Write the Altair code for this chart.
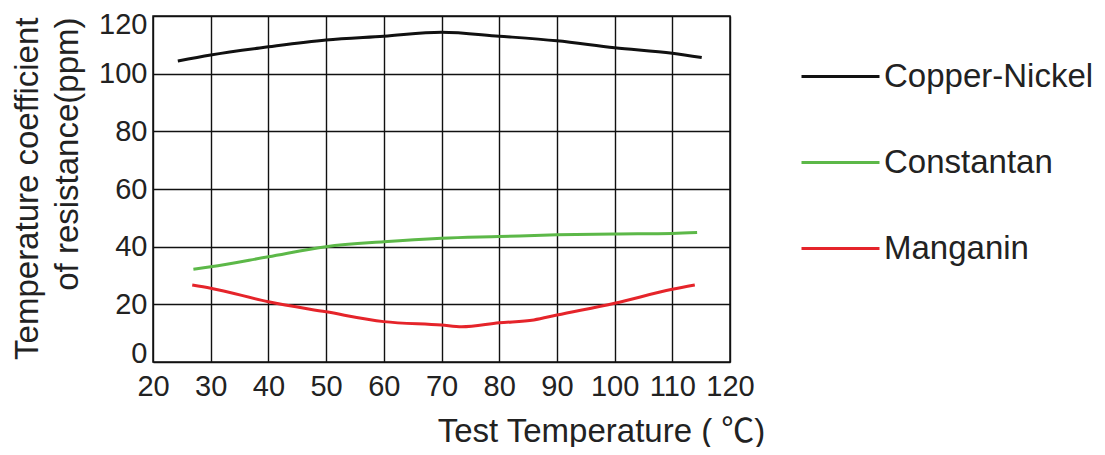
import altair as alt
import pandas as pd

# Copper-Nickel
cn_t = [24.3, 30, 40, 50, 60, 70, 80, 90, 100, 110, 115.1]
cn_v = [104.4, 106.5, 109.3, 111.7, 113.0, 114.4, 113.0, 111.4, 109.0, 107.1, 105.6]
# Constantan
co_t = [27.0, 30, 40, 50, 60, 70, 80, 90, 100, 110, 114.3]
co_v = [32.2, 33.0, 36.5, 40.0, 41.7, 42.9, 43.5, 44.1, 44.4, 44.6, 44.9]
# Manganin
mn_t = [26.8, 30, 40, 50, 60, 70, 73.5, 80, 86, 90, 100, 110, 113.9]
mn_v = [26.7, 25.6, 20.9, 17.4, 14.0, 12.8, 12.2, 13.6, 14.6, 16.3, 20.4, 25.2, 26.7]

series = ["Copper-Nickel", "Constantan", "Manganin"]
colors = ["#111111", "#5cb848", "#e5242a"]
x_ticks = list(range(20, 121, 10))
y_ticks = list(range(0, 121, 20))

rows = []
for name, ts, vs in zip(series, [cn_t, co_t, mn_t], [cn_v, co_v, mn_v]):
    for t, v in zip(ts, vs):
        rows.append({"series": name, "temp": t, "tcr": v})
df = pd.DataFrame(rows)

FONT = "Liberation Sans, Arial, Noto Sans CJK SC, sans-serif"
TXT = "#222222"

chart = alt.Chart(df).mark_line(strokeWidth=3, interpolate="monotone").encode(
    x=alt.X("temp:Q",
            scale=alt.Scale(domain=[20, 120], nice=False, zero=False),
            axis=alt.Axis(values=x_ticks, title="Test Temperature ( ℃)", grid=True,
                          ticks=False, domain=False, labelFlush=False,
                          labelFontSize=29, labelPadding=10, labelColor=TXT, labelFont=FONT,
                          titleFontSize=33, titleFont=FONT, titleColor=TXT,
                          titleFontWeight="normal", titleX=448, titleY=79,
                          titleBaseline="alphabetic", titleAlign="center",
                          gridColor="#111111", gridWidth=1.4, gridOpacity=1)),
    y=alt.Y("tcr:Q",
            scale=alt.Scale(domain=[0, 120], nice=False),
            axis=alt.Axis(values=y_ticks,
                          title=["Temperature coefficient", "of resistance(ppm)"],
                          grid=True, ticks=False, domain=False, labelFlush=True,
                          labelFlushOffset=6,
                          labelFontSize=29, labelPadding=6, labelColor=TXT, labelFont=FONT,
                          titleFontSize=33, titleFont=FONT, titleColor=TXT,
                          titleFontWeight="normal", titleAngle=270, titleAlign="right",
                          titleBaseline="top", titleX=-142, titleY=1, titleLineHeight=40,
                          gridColor="#111111", gridWidth=1.4, gridOpacity=1)),
    color=alt.Color("series:N",
                    scale=alt.Scale(domain=series, range=colors),
                    legend=alt.Legend(orient="none", legendX=647, legendY=20, title=None,
                                      symbolType="stroke", symbolSize=6084,
                                      symbolStrokeWidth=3, labelFontSize=33,
                                      labelFont=FONT, labelColor=TXT, labelOffset=3,
                                      rowPadding=28, padding=0, labelLimit=400)),
).properties(
    width=577, height=346,
    autosize=alt.AutoSizeParams(type="none"),
    padding={"left": 145, "top": 8, "right": 365, "bottom": 85},
).configure_view(stroke="#111111", strokeWidth=1.5)

chart.save("out.html", embed_options={"renderer": "svg", "actions": False})
